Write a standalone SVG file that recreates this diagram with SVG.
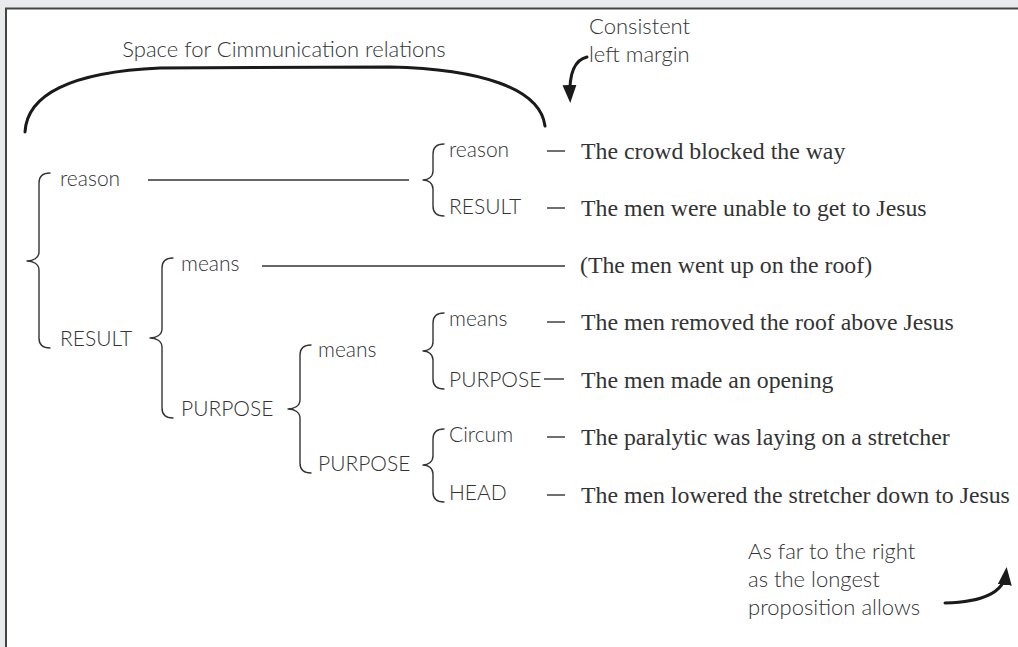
<svg xmlns="http://www.w3.org/2000/svg" width="1018" height="647" viewBox="0 0 1018 647">
  <defs>
    <style>
      .lb { font-family: Lato, "Liberation Sans", sans-serif; font-size: 21px; fill: #333; font-weight: 300; }
      .an { font-family: Lato, "Liberation Sans", sans-serif; font-size: 22px; fill: #333; font-weight: 300; }
      .pr { font-family: "Liberation Serif", "DejaVu Serif", serif; font-size: 23.8px; fill: #333; }
      .brace { fill: none; stroke: #333; stroke-width: 1.4; stroke-linecap: round; stroke-linejoin: round; }
      .rule { fill: none; stroke: #333; stroke-width: 1.4; }
      .dash { fill: none; stroke: #333; stroke-width: 1.4; }
      .callout { fill: none; stroke: #1a1a1a; stroke-width: 3; stroke-linecap: round; }
    </style>
    <marker id="head" viewBox="0 0 18 14" refX="12" refY="7" markerWidth="18" markerHeight="14" markerUnits="userSpaceOnUse" orient="auto">
      <path d="M0,0 L18,7 L0,14 z" fill="#1a1a1a"/>
    </marker>
  </defs>

  <!-- page backdrop and panel -->
  <rect x="0" y="0" width="1018" height="647" fill="#e9eaeb"/>
  <rect x="6" y="8.5" width="1040" height="700" fill="#ffffff" stroke="#444" stroke-width="2"/>

  <!-- annotation: bracket over the relation area -->
  <g id="relations-note">
    <path class="callout" stroke-width="2.6" d="M25,132 C27,95 70,72 160,68 L390,67 C480,69 540,88 545,126"/>
    <text class="an" x="284" y="57" text-anchor="middle">Space for Cimmunication relations</text>
  </g>

  <!-- annotation: left margin -->
  <g id="margin-note">
    <text class="an" x="589" y="34">Consistent</text>
    <text class="an" x="589" y="62">left margin</text>
  </g>

  <!-- annotation: right edge -->
  <g id="right-note">
    <text class="an" x="748" y="559">As far to the right</text>
    <text class="an" x="748" y="587">as the longest</text>
    <text class="an" x="748" y="615">proposition allows</text>
  </g>

  <!-- connectors: braces, rules, dashes, callout arrows -->
  <g id="connectors">
    <!-- level 1: reason / RESULT -->
    <path class="brace" d="M50,173 C43,173 39,176 39,183 L39,252 C39,258 33,261 27,261 C33,261 39,264 39,270 L39,338 C39,345 43,348 50,348"/>
    <!-- reason / RESULT (propositions) -->
    <path class="brace" d="M444,144 C437,144 433,147 433,154 L433,171 C433,177 428,180 423,180 C428,180 433,183 433,189 L433,206 C433,213 437,216 444,216"/>
    <!-- means / PURPOSE under RESULT -->
    <path class="brace" d="M173,258 C166,258 162,261 162,268 L162,329 C162,335 156,338 150,338 C156,338 162,341 162,347 L162,408 C162,415 166,418 173,418"/>
    <!-- means / PURPOSE under PURPOSE -->
    <path class="brace" d="M311,345 C304,345 300,348 300,355 L300,400 C300,406 294,409 288,409 C294,409 300,412 300,418 L300,463 C300,470 304,473 311,473"/>
    <!-- means / PURPOSE (propositions) -->
    <path class="brace" d="M444,313 C437,313 433,316 433,323 L433,342 C433,348 428,351 423,351 C428,351 433,354 433,360 L433,379 C433,386 437,389 444,389"/>
    <!-- Circum / HEAD -->
    <path class="brace" d="M444,429 C437,429 433,432 433,439 L433,456 C433,462 428,465 423,465 C428,465 433,468 433,474 L433,492 C433,499 437,502 444,502"/>

    <line class="rule" x1="148" y1="180" x2="409" y2="180"/>
    <line class="rule" x1="262" y1="266" x2="565" y2="266"/>

    <line class="dash" x1="547" y1="151" x2="565" y2="151"/>
    <line class="dash" x1="547" y1="208" x2="565" y2="208"/>
    <line class="dash" x1="547" y1="322" x2="565" y2="322"/>
    <line class="dash" x1="544" y1="379" x2="564" y2="379"/>
    <line class="dash" x1="547" y1="437" x2="565" y2="437"/>
    <line class="dash" x1="547" y1="495" x2="565" y2="495"/>

    <path class="callout" d="M587,57 C574,60 569,74 570,97" marker-end="url(#head)"/>
    <path class="callout" d="M945,603 C985,602 1004,592 1006,573" marker-end="url(#head)"/>
  </g>

  <!-- relation labels -->
  <g id="n-reason-1"><text class="lb" x="60" y="186">reason</text></g>
  <g id="n-result-1"><text class="lb" x="60" y="346">RESULT</text></g>
  <g id="n-reason-2"><text class="lb" x="449" y="157">reason</text></g>
  <g id="n-result-2"><text class="lb" x="449" y="214">RESULT</text></g>
  <g id="n-means-2"><text class="lb" x="181" y="271">means</text></g>
  <g id="n-purpose-2"><text class="lb" x="181" y="416">PURPOSE</text></g>
  <g id="n-means-3"><text class="lb" x="318" y="357">means</text></g>
  <g id="n-purpose-3"><text class="lb" x="318" y="471">PURPOSE</text></g>
  <g id="n-means-4"><text class="lb" x="449" y="326">means</text></g>
  <g id="n-purpose-4"><text class="lb" x="449" y="387">PURPOSE</text></g>
  <g id="n-circum"><text class="lb" x="449" y="442">Circum</text></g>
  <g id="n-head"><text class="lb" x="449" y="500">HEAD</text></g>

  <!-- propositions -->
  <g id="p1"><text class="pr" x="581" y="159">The crowd blocked the way</text></g>
  <g id="p2"><text class="pr" x="581" y="216">The men were unable to get to Jesus</text></g>
  <g id="p3"><text class="pr" x="580" y="273">(The men went up on the roof)</text></g>
  <g id="p4"><text class="pr" x="581" y="330">The men removed the roof above Jesus</text></g>
  <g id="p5"><text class="pr" x="581" y="388">The men made an opening</text></g>
  <g id="p6"><text class="pr" x="581" y="445">The paralytic was laying on a stretcher</text></g>
  <g id="p7"><text class="pr" x="581" y="503">The men lowered the stretcher down to Jesus</text></g>
</svg>
